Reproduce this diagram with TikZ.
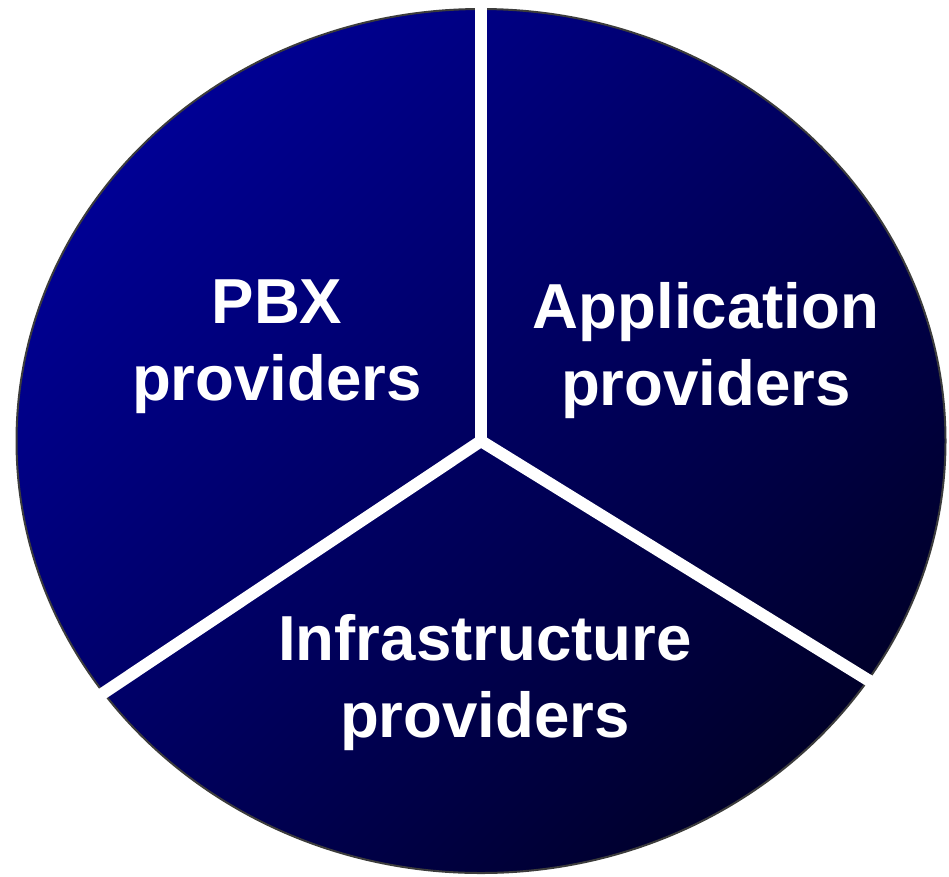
\documentclass[tikz,border=0pt]{standalone}
\usepackage{fontspec}
\setmainfont{Liberation Sans}
\definecolor{blueA}{RGB}{0,0,148}
\definecolor{blueB}{RGB}{0,0,115}
\definecolor{blueC}{RGB}{0,0,42}
\definecolor{rimgray}{RGB}{60,60,60}
\begin{document}
\begin{tikzpicture}[x=1pt,y=-1pt,
  lbl/.style={text=white,font=\bfseries\fontsize{63.6}{77}\selectfont,anchor=base,inner sep=0pt},
  gap/.style={white,line width=12pt}]
\useasboundingbox (0,0) rectangle (949,876);
\coordinate (c) at (481,441);
\shadedraw[top color=blueA, middle color=blueB, bottom color=blueC, shading angle=45,
  draw=rimgray, line width=2pt] (c) ellipse [x radius=464.5, y radius=432];
\coordinate (gtop) at (481,-20);
\coordinate (gleft) at (60,722);
\coordinate (gright) at (915,709);
\draw[gap] (c) -- (gtop);
\draw[gap] (c) -- (gleft);
\draw[gap] (c) -- (gright);
\node[lbl] (pbx1) at (277,323) {PBX};
\node[lbl] (pbx2) at (277,400) {providers};
\node[lbl] (app1) at (706,328) {Application};
\node[lbl] (app2) at (706,405) {providers};
\node[lbl] (inf1) at (485,660) {Infrastructure};
\node[lbl] (inf2) at (485,737) {providers};
\end{tikzpicture}
\end{document}
